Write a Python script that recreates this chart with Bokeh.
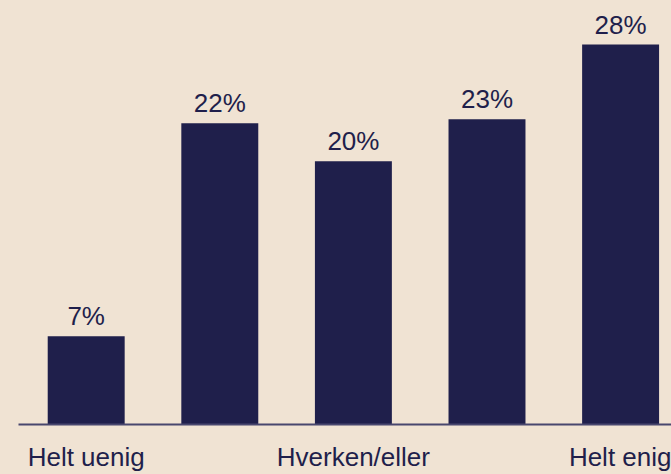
from bokeh.plotting import figure
from bokeh.models import ColumnDataSource, Range1d, FixedTicker
from bokeh.embed import file_html
from bokeh.resources import INLINE

# Data
positions = [1, 2, 3, 4, 5]
values = [6.5, 22.2, 19.4, 22.5, 28.0]
value_labels = ["7%", "22%", "20%", "23%", "28%"]
tick_positions = [1, 3, 5]
tick_labels = ["Helt uenig", "Hverken/eller", "Helt enig"]

BG = "#F0E3D3"
NAVY = "#1F1F4B"
FONT = "Liberation Sans"

src = ColumnDataSource(dict(x=positions, top=values, lab=value_labels))

p = figure(width=671, height=474, output_backend="svg", toolbar_location=None,
           x_range=Range1d(0.4933, 5.381), y_range=Range1d(0, 31.25),
           min_border_left=18, min_border_right=0, min_border_top=0, min_border_bottom=45)
p.background_fill_color = BG
p.border_fill_color = BG
p.outline_line_color = None
p.grid.visible = False
p.yaxis.visible = False

p.vbar(x="x", top="top", width=0.576, bottom=0, source=src,
       fill_color=NAVY, line_color=None)

p.text(x="x", y="top", text="lab", source=src, text_align="center",
       text_baseline="bottom", y_offset=-5, text_font_size="26px",
       text_color=NAVY, text_font={"value": FONT})

ax = p.xaxis[0]
ax.ticker = FixedTicker(ticks=tick_positions)
ax.major_label_overrides = {t: l for t, l in zip(tick_positions, tick_labels)}
ax.major_tick_line_color = None
ax.minor_tick_line_color = None
ax.major_tick_out = 0
ax.major_tick_in = 0
ax.minor_tick_out = 0
ax.minor_tick_in = 0
ax.axis_line_color = "#48476E"
ax.axis_line_width = 2
ax.major_label_standoff = 17
ax.major_label_text_font = FONT
ax.major_label_text_font_size = "26px"
ax.major_label_text_color = NAVY

html = file_html(p, INLINE)
html = html.replace("<head>", "<head><style>html, body { background: #F0E3D3; }</style>", 1)
open("out.html", "w").write(html)
